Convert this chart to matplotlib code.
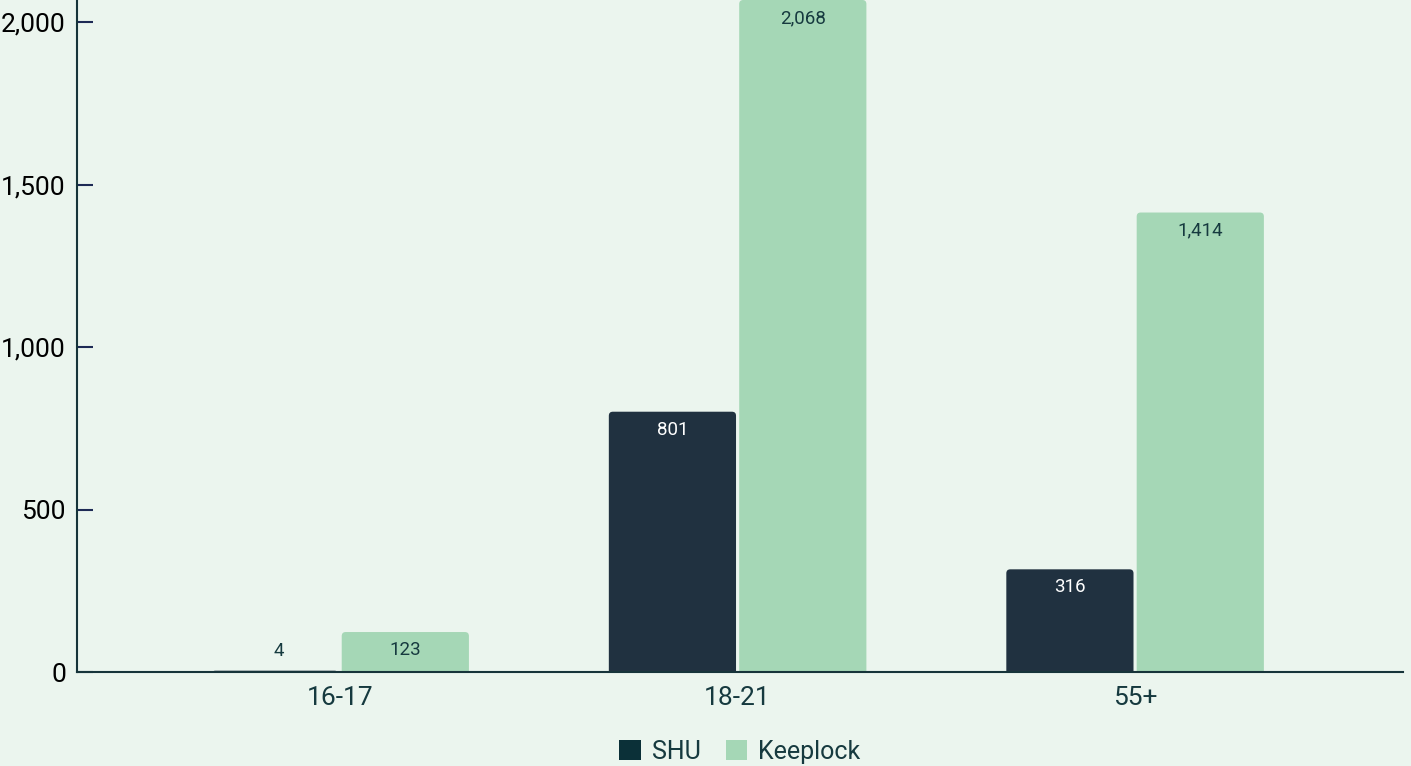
import matplotlib.pyplot as plt
import numpy as np
from matplotlib.patches import Patch, FancyBboxPatch

# data
age_groups = ["16-17", "18-21", "55+"]
shu_values = [4, 801, 316]
keeplock_values = [123, 2068, 1414]
y_ticks = [0, 500, 1000, 1500, 2000]

bg_color = "#ebf5ee"
shu_color = "#203140"
keeplock_color = "#a5d7b6"
text_color = "#163a3f"

plt.rcParams['font.family'] = ['Roboto', 'DejaVu Sans']

fig = plt.figure(figsize=(14.11, 7.66), dpi=100, facecolor=bg_color)
ax = fig.add_axes([77 / 1411, 1 - 672 / 766, (1403 - 77) / 1411, 672 / 766])
ax.set_facecolor(bg_color)

x_min, x_max = -0.662, 2.674
y_max = 2068
ax.set_xlim(x_min, x_max)
ax.set_ylim(0, y_max)

# pixel scale of data units, used to round the bar corners evenly
x_per_px = (x_max - x_min) / (1403 - 77)
y_per_px = y_max / 672
radius_px = 4

x = np.arange(len(age_groups))
width = 0.32
gap = 0.004


def rounded_bars(xs, values, color):
    bars = []
    for xc, v in zip(xs, values):
        left = xc - width / 2
        bottom = -radius_px * y_per_px
        patch = FancyBboxPatch((left, bottom), width, v - bottom,
                               boxstyle=f"round,pad=0,rounding_size={radius_px * x_per_px}",
                               mutation_aspect=y_per_px / x_per_px,
                               facecolor=color, edgecolor="none", zorder=2)
        ax.add_patch(patch)
        bars.append((xc, v))
    return bars


shu_bars = rounded_bars(x - width / 2 - gap, shu_values, shu_color)
keep_bars = rounded_bars(x + width / 2 + gap, keeplock_values, keeplock_color)


def label_bars(bars, inside_color):
    for cx, v in bars:
        if v > 60:
            ax.annotate(f"{v:,}", xy=(cx, v), xytext=(0, -13), textcoords="offset points",
                        ha="center", va="center", fontsize=13.5, color=inside_color, zorder=3)
        else:
            ax.annotate(f"{v:,}", xy=(cx, v), xytext=(3, 14), textcoords="offset points",
                        ha="center", va="center", fontsize=13.5, color=text_color, zorder=3)


label_bars(shu_bars, "white")
label_bars(keep_bars, text_color)

ax.set_xticks(x)
ax.set_xticklabels(age_groups, fontsize=19, color=text_color)
ax.set_yticks(y_ticks)
ax.set_yticklabels([f"{t:,}" for t in y_ticks], fontsize=19, color="black")
ax.tick_params(axis="x", length=0, pad=10)
ax.tick_params(axis="y", direction="in", length=11.5, width=1.5, color="#1d2a55", pad=8)

for side in ["top", "right"]:
    ax.spines[side].set_visible(False)
ax.spines["left"].set_color("#16343a")
ax.spines["bottom"].set_color("#16343a")
ax.spines["left"].set_linewidth(1.5)
ax.spines["bottom"].set_linewidth(1.5)
ax.spines["bottom"].set_zorder(3)

handles = [Patch(facecolor="#0b3038", label="SHU"), Patch(facecolor=keeplock_color, label="Keeplock")]
leg = fig.legend(handles=handles, loc="center", bbox_to_anchor=(740 / 1411, 1 - 752 / 766), ncol=2,
                 frameon=False, fontsize=18, handlelength=0.85, handleheight=0.85,
                 handletextpad=0.45, columnspacing=1.0)
for t in leg.get_texts():
    t.set_color(text_color)

fig.savefig("out.png", dpi=100, facecolor=bg_color)
